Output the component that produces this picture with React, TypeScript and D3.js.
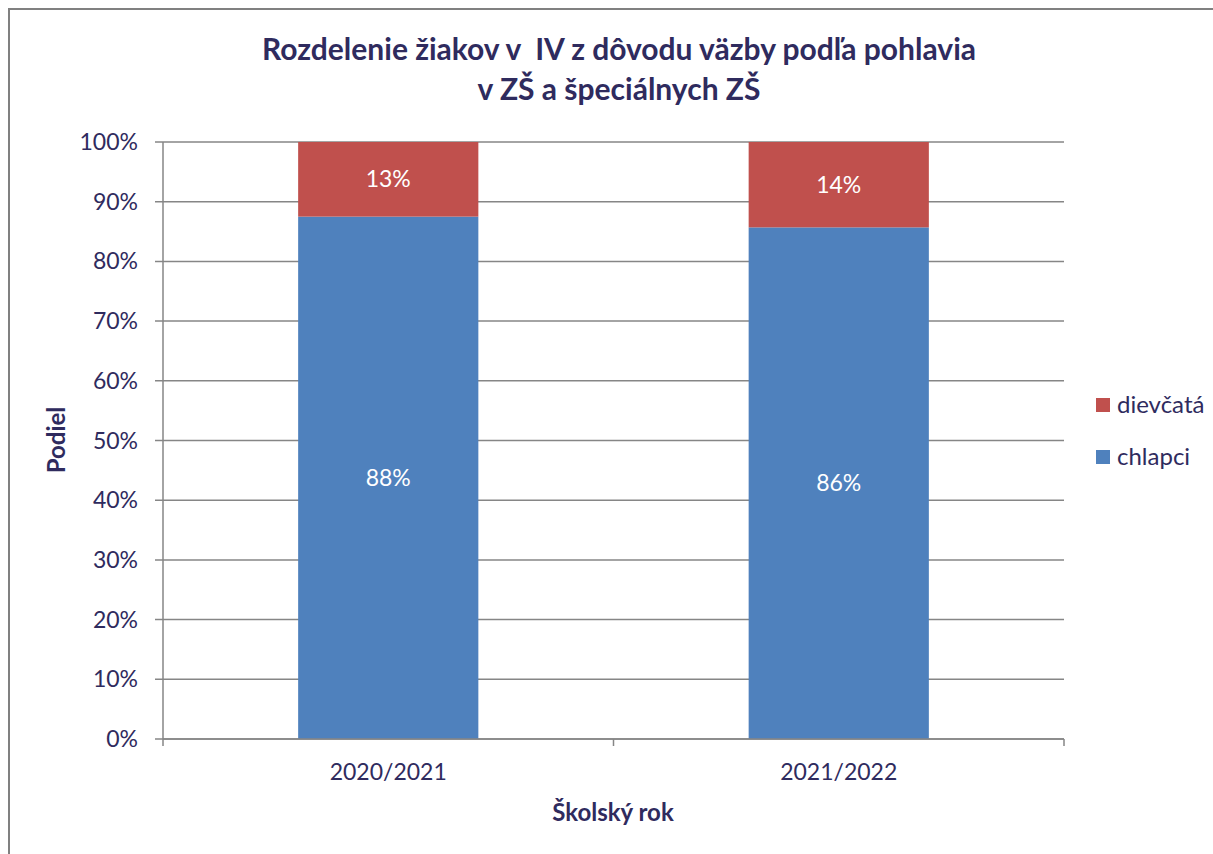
import React from "react";
import * as d3 from "d3";

const categories = ["2020/2021", "2021/2022"];
const chlapci = [87.5, 85.7];
const dievcata = [12.5, 14.3];
const chlapciLabels = ["88%", "86%"];
const dievcataLabels = ["13%", "14%"];
const yTicks = [0, 10, 20, 30, 40, 50, 60, 70, 80, 90, 100];
const seriesNames = ["dievčatá", "chlapci"];

const W = 1213;
const H = 854;
const FONT = "Lato, 'Open Sans', sans-serif";
const TXT = "#2F2B5E";
const GRID = "#868686";
const RED = "#C0504D";
const BLUE = "#4F81BD";

export default function App() {
  const left = 163, right = 1064, top = 142, bottom = 739;
  const x = d3.scaleBand<string>().domain(categories).range([left, right]).paddingInner(0.6).paddingOuter(0.3);
  const xc = d3.scaleBand<string>().domain(categories).range([left, right]);
  const y = d3.scaleLinear().domain([0, 100]).range([bottom, top]);
  const stackData = categories.map((c, i) => ({ cat: c, chlapci: chlapci[i], dievcata: dievcata[i] }));
  const stack = d3.stack<any>().keys(["chlapci", "dievcata"])(stackData);
  const colors: Record<string, string> = { chlapci: BLUE, dievcata: RED };
  const labels: Record<string, string[]> = { chlapci: chlapciLabels, dievcata: dievcataLabels };
  const bw = x.bandwidth();

  return (
    <svg width={W} height={H} style={{ position: "absolute", left: 0, top: 0, display: "block" }} fontFamily={FONT}>
      <rect x={0} y={0} width={W} height={H} fill="#fff" />
      <rect x={9} y={9} width={W + 20} height={H + 20} fill="none" stroke="#808080" strokeWidth={2} />
      <text x={619} y={60} textAnchor="middle" fontSize={30} fontWeight="bold" fill={TXT} style={{ whiteSpace: "pre" }}>
        {"Rozdelenie žiakov v  IV z dôvodu väzby podľa pohlavia"}
      </text>
      <text x={619} y={100} textAnchor="middle" fontSize={30} fontWeight="bold" fill={TXT}>
        v ZŠ a špeciálnych ZŠ
      </text>
      {yTicks.map((t) => (
        <g key={t}>
          <line x1={155} x2={right} y1={y(t)} y2={y(t)} stroke={GRID} strokeWidth={1.5} />
          <text x={138} y={y(t) + 8} textAnchor="end" fontSize={23} fill={TXT}>{t}%</text>
        </g>
      ))}
      <line x1={left} x2={left} y1={top} y2={bottom + 7} stroke={GRID} strokeWidth={1.5} />
      {stack.map((s) =>
        s.map((d, i) => (
          <g key={s.key + i}>
            <rect x={x(categories[i])} y={y(d[1])} width={bw} height={y(d[0]) - y(d[1])} fill={colors[s.key]} />
            <text x={(x(categories[i]) as number) + bw / 2} y={(y(d[0]) + y(d[1])) / 2 + 8} textAnchor="middle" fontSize={23} fill="#fff">
              {labels[s.key][i]}
            </text>
          </g>
        ))
      )}
      <line x1={left} x2={right} y1={bottom} y2={bottom} stroke={GRID} strokeWidth={1.5} />
      {categories.map((c) => (
        <g key={c}>
          <line x1={(xc(c) as number) + xc.bandwidth()} x2={(xc(c) as number) + xc.bandwidth()} y1={bottom} y2={bottom + 7} stroke={GRID} strokeWidth={1.5} />
          <text x={(xc(c) as number) + xc.bandwidth() / 2} y={780} textAnchor="middle" fontSize={23} fill={TXT}>{c}</text>
        </g>
      ))}
      <text x={613} y={821} textAnchor="middle" fontSize={24} fontWeight="bold" fill={TXT}>Školský rok</text>
      <text transform="translate(65,440) rotate(-90)" textAnchor="middle" fontSize={24} fontWeight="bold" fill={TXT}>Podiel</text>
      {seriesNames.map((n, i) => (
        <g key={n}>
          <rect x={1096} y={398 + i * 52} width={14} height={14} fill={i === 0 ? RED : BLUE} />
          <text x={1117} y={413 + i * 52} fontSize={24} fill={TXT}>{n}</text>
        </g>
      ))}
    </svg>
  );
}
